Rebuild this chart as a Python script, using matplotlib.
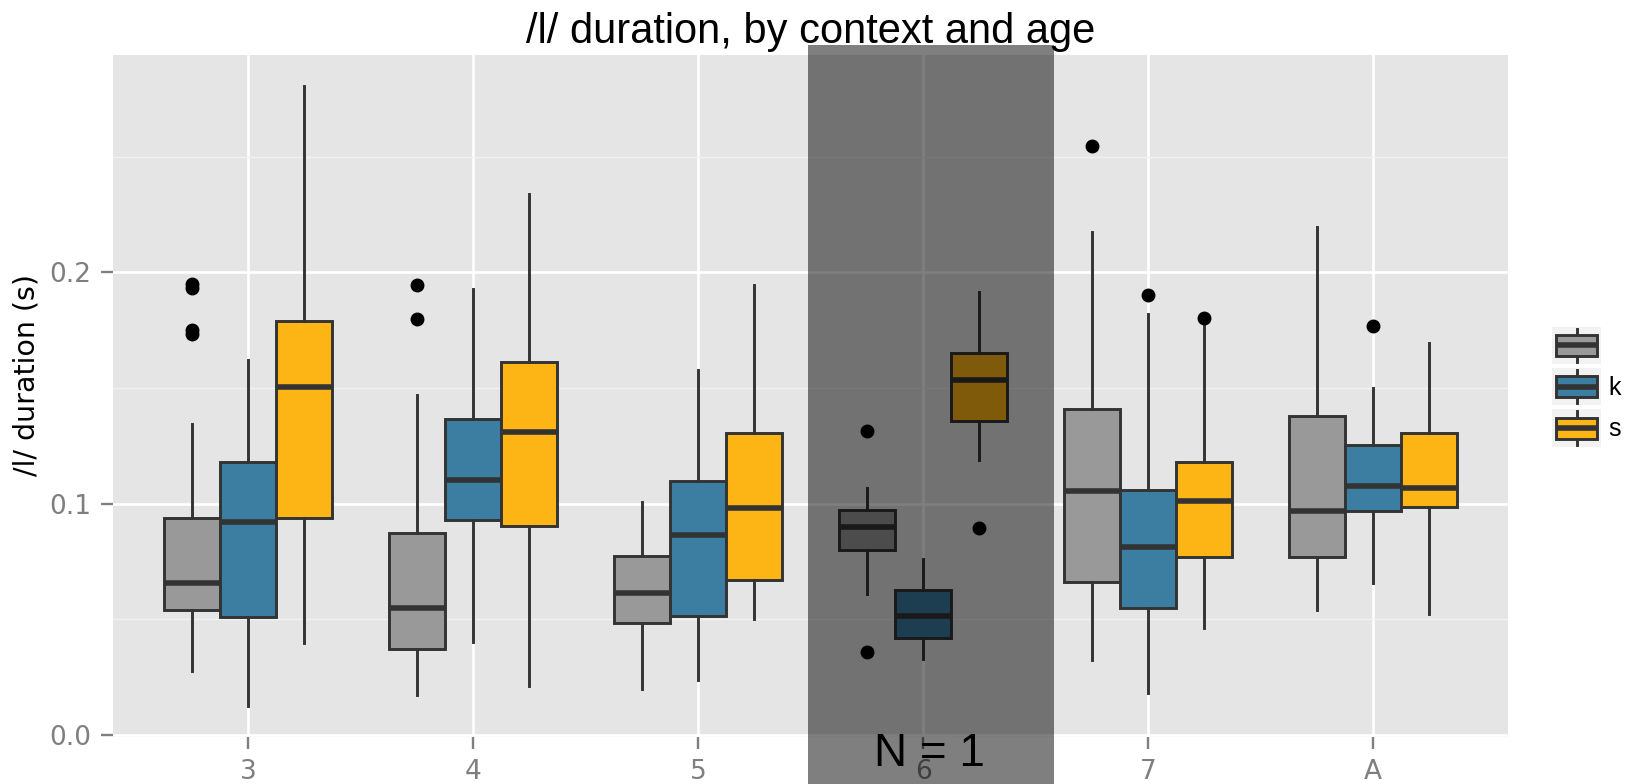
import numpy as np
import matplotlib
matplotlib.use("Agg")
import matplotlib.pyplot as plt
import matplotlib.transforms as mtransforms
from matplotlib.patches import Rectangle, Patch
from matplotlib.lines import Line2D
from matplotlib.legend_handler import HandlerBase

# ---- data -------------------------------------------------------------
contexts = ["3", "4", "5", "6", "7", "A"]
ages = ["", "k", "s"]
age_colors = ["#999999", "#3B7EA1", "#FDB515"]

# box-plot summaries (seconds), one entry per context
plain_whislo = [0.0278, 0.0174, 0.0201, 0.0608, 0.0325, 0.0542]
plain_q1     = [0.0541, 0.0371, 0.0486, 0.0802, 0.0662, 0.0771]
plain_med    = [0.0657, 0.0549, 0.0613, 0.0901, 0.1054, 0.0969]
plain_q3     = [0.0937, 0.0873, 0.0773, 0.0974, 0.1409, 0.1381]
plain_whishi = [0.1347, 0.1472, 0.1007, 0.1068, 0.2173, 0.2196]
plain_fliers = [[0.1952, 0.1935, 0.1752, 0.1735], [0.1946, 0.1797], [],
                [0.1315, 0.0359], [0.2546], []]

k_whislo = [0.0126, 0.0402, 0.0239, 0.0330, 0.0184, 0.0659]
k_q1     = [0.0512, 0.0928, 0.0514, 0.0421, 0.0549, 0.0969]
k_med    = [0.0922, 0.1101, 0.0866, 0.0516, 0.0813, 0.1078]
k_q3     = [0.1179, 0.1368, 0.1099, 0.0626, 0.1059, 0.1255]
k_whishi = [0.1623, 0.1927, 0.1578, 0.0761, 0.1821, 0.1500]
k_fliers = [[], [], [], [], [0.1902], [0.1769]]

s_whislo = [0.0398, 0.0213, 0.0500, 0.1190, 0.0465, 0.0523]
s_q1     = [0.0937, 0.0902, 0.0672, 0.1358, 0.0771, 0.0988]
s_med    = [0.1505, 0.1312, 0.0981, 0.1536, 0.1012, 0.1067]
s_q3     = [0.1791, 0.1614, 0.1307, 0.1650, 0.1180, 0.1304]
s_whishi = [0.2806, 0.2340, 0.1947, 0.1917, 0.1767, 0.1693]
s_fliers = [[], [], [], [0.0894], [0.1804], []]

y_ticks = [0.0, 0.1, 0.2]
y_ticklabels = ["0.0", "0.1", "0.2"]
single_speaker_context = "6"

series = [
    (plain_whislo, plain_q1, plain_med, plain_q3, plain_whishi, plain_fliers),
    (k_whislo, k_q1, k_med, k_q3, k_whishi, k_fliers),
    (s_whislo, s_q1, s_med, s_q3, s_whishi, s_fliers),
]

# ---- style ------------------------------------------------------------
PANEL = "#E5E5E5"
EDGE = "#333333"
AXIS_GREY = "#7F7F7F"
LW = 2.1
MED_LW = 4.0
BOX_W = 0.25
TEXT_FONT = ["Liberation Sans", "DejaVu Sans"]

fig = plt.figure(figsize=(16.28, 7.84), dpi=100)
ax = fig.add_axes([113 / 1628, 47 / 784, 1395 / 1628, 682 / 784])
ax.set_facecolor(PANEL)
for sp in ax.spines.values():
    sp.set_visible(False)
ax.set_axisbelow(True)

x = np.arange(len(contexts))
offsets = [-BOX_W, 0.0, BOX_W]

all_vals = []
for (lo, q1, med, q3, hi, fl), color, off in zip(series, age_colors, offsets):
    stats = []
    for j in range(len(contexts)):
        stats.append(dict(whislo=lo[j], q1=q1[j], med=med[j], q3=q3[j],
                          whishi=hi[j], fliers=np.array(fl[j])))
        all_vals += [lo[j], hi[j]] + list(fl[j])
    ax.bxp(stats, positions=x + off, widths=BOX_W, patch_artist=True,
           showcaps=False, manage_ticks=False,
           boxprops=dict(facecolor=color, edgecolor=EDGE, linewidth=LW),
           medianprops=dict(color=EDGE, linewidth=MED_LW, solid_capstyle="butt"),
           whiskerprops=dict(color=EDGE, linewidth=LW),
           flierprops=dict(marker="o", markerfacecolor="black",
                           markeredgecolor="black", markersize=9))

# limits with 5% padding of the data range, discrete padding of 0.6
lo_all, hi_all = min(all_vals), max(all_vals)
rng = hi_all - lo_all
ax.set_ylim(lo_all - 0.05 * rng, hi_all + 0.05 * rng)
ax.set_xlim(-0.6, len(contexts) - 0.4)

# grid
ax.set_yticks(y_ticks)
ax.set_yticks([0.05, 0.15, 0.25], minor=True)
ax.set_xticks(x)
ax.grid(which="major", color="white", linewidth=1.9)
ax.grid(which="minor", axis="y", color="#F2F2F2", linewidth=0.95)
ax.tick_params(which="minor", length=0)

ax.set_yticklabels(y_ticklabels)
ax.set_xticklabels(contexts)
ax.tick_params(which="major", colors=AXIS_GREY, labelcolor=AXIS_GREY,
               length=8.6, width=1.7, labelsize=19, pad=7.2)

ax.set_ylabel("/l/ duration (s)", fontsize=20.5, family="DejaVu Sans", color="black")
ax.yaxis.set_label_coords(-0.0617, 0.531)
ax.yaxis.label.set_va("center")

ax.set_title("/l/ duration, by context and age", fontsize=30, family=TEXT_FONT,
             color="black", pad=8.4)

# shade the single-speaker context
ci = contexts.index(single_speaker_context)
blend = mtransforms.blended_transform_factory(ax.transData, ax.transAxes)
ax.add_patch(Rectangle((ci - 0.513, -0.07), 1.097, 1.0847, transform=blend,
                       facecolor="black", alpha=0.5, edgecolor="none",
                       zorder=10, clip_on=False))
ax.text(ci + 0.03, -0.0425, "N = 1", transform=blend, ha="center", va="baseline",
        fontsize=33, family=TEXT_FONT, color="black", zorder=11, clip_on=False)


# legend with box-plot keys
class BoxKey(HandlerBase):
    def create_artists(self, legend, orig_handle, xdescent, ydescent,
                       width, height, fontsize, trans):
        x0, y0 = -xdescent, -ydescent
        cx = x0 + width / 2
        bg = Rectangle((x0, y0), width, height, facecolor="#F2F2F2",
                       edgecolor="none", transform=trans)
        wh = Line2D([cx, cx], [y0 + 0.05 * height, y0 + 0.95 * height],
                    color=EDGE, lw=LW, transform=trans)
        bw, bh = 0.84 * width, 0.5625 * height
        box = Rectangle((cx - bw / 2, y0 + (height - bh) / 2), bw, bh,
                        facecolor=orig_handle.get_facecolor(), edgecolor=EDGE,
                        lw=LW, transform=trans)
        md = Line2D([cx - bw / 2, cx + bw / 2], [y0 + height / 2] * 2,
                    color=EDGE, lw=MED_LW, solid_capstyle="butt", transform=trans)
        return [bg, wh, box, md]


handles = [Patch(facecolor=c) for c in age_colors]
fig.legend(handles, ages, handler_map={Patch: BoxKey()},
           loc="upper left", bbox_to_anchor=(1552.3 / 1628, (784 - 326.7) / 784),
           bbox_transform=fig.transFigure, frameon=False, borderpad=0,
           borderaxespad=0, handlelength=1.95, handleheight=1.92,
           labelspacing=0.16, handletextpad=0.3,
           prop=dict(family=TEXT_FONT, size=18))

fig.savefig("out.png", dpi=100, facecolor="white")
